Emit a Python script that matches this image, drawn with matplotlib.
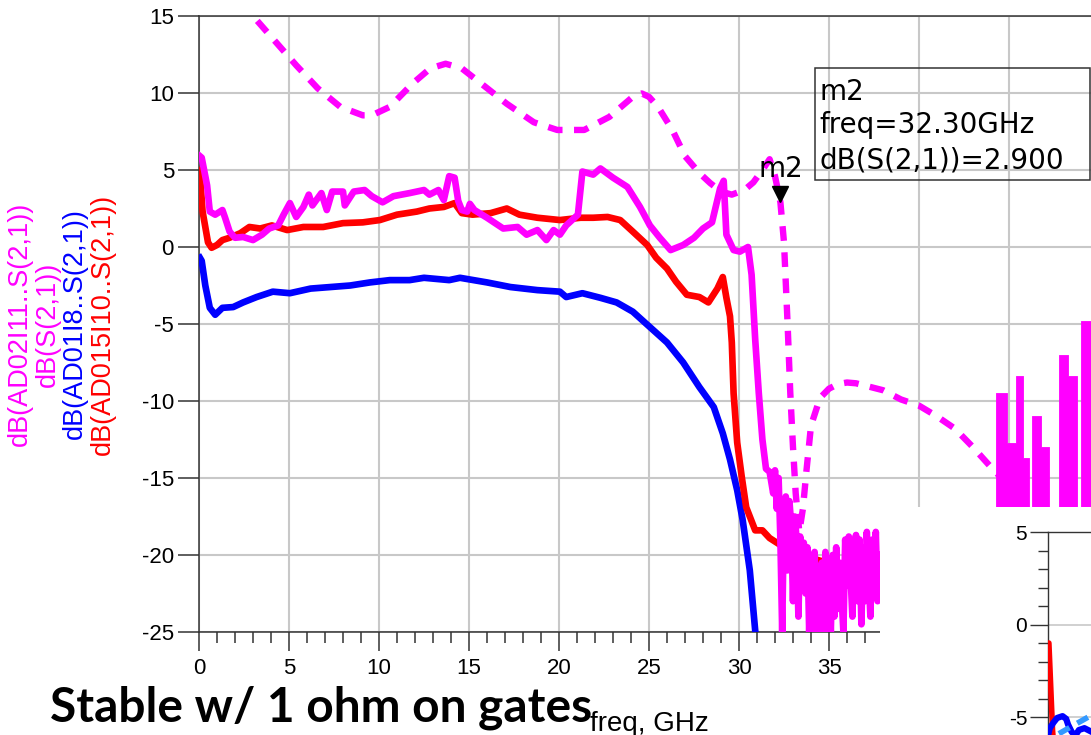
import matplotlib
matplotlib.use("Agg")
import matplotlib.pyplot as plt
from matplotlib.patches import Rectangle
from matplotlib.ticker import MultipleLocator, FuncFormatter
from matplotlib.transforms import offset_copy

plt.rcParams['font.family'] = ['Liberation Sans', 'DejaVu Sans']
plt.rcParams['axes.unicode_minus'] = False

W, H = 1091, 735  # canvas size in px

# measured dB(AD02I11..S(2,1)), magenta solid
f_a02 = [0.05, 0.15, 0.45, 0.6, 0.9, 1.3, 1.45, 1.7, 2.0, 2.45, 3.0, 3.5, 3.9, 4.4, 4.7,
         5.05, 5.4, 5.8, 6.1, 6.3, 6.8, 7.1, 7.4, 8.0, 8.1, 8.6, 9.2, 9.6, 10.2, 10.8,
         11.7, 12.5, 12.8, 13.3, 13.6, 13.9, 14.2, 14.4, 14.6, 14.9, 15.05, 15.3, 16.0,
         16.9, 17.7, 18.2, 18.8, 19.3, 19.7, 20.05, 20.4, 21.05, 21.3, 21.9, 22.3, 23.0,
         23.8, 24.5, 25.05, 25.6, 26.2, 26.9, 27.5, 28.0, 28.5, 28.95, 29.15, 29.3, 29.7,
         30.05, 30.5, 30.7, 30.9, 31.1, 31.3, 31.5, 31.7, 31.9,
         32.0, 32.1, 32.2, 32.3, 32.4, 32.5, 32.6, 32.7, 32.8, 32.9, 33.0, 33.1, 33.2,
         33.3, 33.4, 33.5, 33.6, 33.7, 33.8, 33.9, 34.0, 34.1, 34.2, 34.3, 34.4, 34.5,
         34.6, 34.7, 34.8, 34.9, 35.0, 35.1, 35.2, 35.3, 35.4, 35.5, 35.6, 35.8, 35.9,
         36.0, 36.1, 36.3, 36.4, 36.5, 36.6, 36.7, 36.8, 36.9, 37.0, 37.1, 37.3, 37.4,
         37.5, 37.6, 37.7, 37.8]
db_a02 = [5.9, 5.8, 4.0, 2.3, 2.1, 2.4, 1.9, 1.0, 0.6, 0.65, 0.45, 0.8, 1.2, 1.4, 2.1,
          2.85, 1.95, 2.6, 3.4, 2.7, 3.5, 2.4, 3.6, 3.6, 2.7, 3.6, 3.7, 3.3, 2.9, 3.3,
          3.5, 3.7, 3.4, 3.7, 3.05, 4.6, 4.5, 3.0, 2.4, 2.3, 2.8, 2.4, 1.9,
          1.2, 1.3, 0.8, 1.1, 0.45, 1.1, 0.8, 1.4, 2.1, 4.9, 4.7, 5.1, 4.5,
          3.9, 2.6, 1.4, 0.6, -0.2, 0.13, 0.6, 1.2, 1.6, 3.8, 4.3, 0.8, -0.2,
          -0.3, 0.0, -1.8, -6.0, -9.5, -12.5, -14.4, -14.6, -16.0,
          -14.5, -17.0, -15.0, -19.0, -25.0, -17.0, -16.2, -21.0, -16.5, -18.0, -23.0, -17.5, -19.0,
          -24.0, -18.8, -21.0, -19.2, -22.5, -19.5, -25.0, -20.0, -23.5, -19.8, -25.0, -21.0, -24.5,
          -20.5, -25.0, -19.8, -23.0, -21.0, -25.0, -20.0, -24.0, -19.5, -23.5, -20.5, -25.0, -19.0,
          -22.0, -18.8, -24.0, -20.0, -18.7, -23.0, -19.0, -24.5, -19.5, -23.0, -18.5, -24.0, -19.0,
          -22.0, -18.5, -23.0, -20.0]

# same trace above 44 GHz (top of each spike)
f_a02_hi = [44.3, 44.9, 45.4, 45.8, 46.1, 46.3, 46.75, 47.2, 47.8, 48.3, 48.75, 49.0, 50.0]
db_a02_hi = [-9.5, -12.7, -8.4, -13.7, -25.0, -11.0, -13.0, -25.0, -7.0, -8.4, -25.0, -4.8, -4.8]

# simulated dB(S(2,1)), magenta dashed
f_sim = [2.0, 3.0, 4.5, 5.4, 6.6, 7.85, 9.1, 9.6, 10.6, 11.85, 12.85, 13.7, 14.6, 15.8,
         17.1, 18.6, 19.9, 21.4, 22.8, 24.1, 24.6, 25.0, 25.5, 26.3, 27.0, 27.8, 28.4,
         29.0, 29.6, 30.3, 30.8, 31.3, 31.7, 32.0, 32.3, 32.5, 32.7, 32.85, 33.0, 33.15,
         33.35, 33.55, 33.75, 34.0, 34.5, 35.0, 35.5, 36.0, 36.5, 37.0, 38.0, 39.0, 40.0,
         41.0, 42.0, 43.0, 44.0, 45.0, 46.0, 47.0, 48.0, 50.0]
db_sim = [17.0, 15.0, 13.0, 11.8, 10.3, 9.1, 8.55, 8.55, 9.1, 10.6, 11.6, 11.9, 11.6, 10.5,
          9.3, 8.1, 7.6, 7.6, 8.45, 9.75, 9.97, 9.75, 9.1, 7.6, 5.9, 4.8, 4.15,
          3.6, 3.4, 3.7, 4.2, 5.0, 5.7, 4.6, 2.9, 0.3, -5.0, -9.5, -13.0, -16.0,
          -18.5, -17.0, -14.5, -11.6, -9.8, -9.2, -8.9, -8.8, -8.85, -9.0, -9.3, -9.9, -10.3,
          -11.0, -11.8, -13.0, -14.3, -15.5, -17.0, -18.5, -20.0, -22.5]

# dB(AD01I8..S(2,1)), blue
f_a01 = [0.05, 0.15, 0.35, 0.6, 0.9, 1.3, 1.9, 2.45, 3.2, 4.1, 5.05, 6.2, 7.3, 8.4, 9.5,
         10.6, 11.7, 12.5, 13.9, 14.5, 16.0, 17.3, 18.8, 20.05, 20.4, 21.3, 22.3, 23.2,
         24.1, 25.05, 26.0, 26.9, 27.8, 28.6, 29.1, 29.5, 29.9, 30.2, 30.6, 30.9, 31.0]
db_a01 = [-0.7, -0.9, -2.5, -3.95, -4.4, -3.95, -3.9, -3.6, -3.25, -2.9, -3.0, -2.7, -2.6,
          -2.5, -2.3, -2.15, -2.15, -2.0, -2.15, -2.0, -2.3, -2.6, -2.8, -2.9, -3.25, -3.0,
          -3.3, -3.6, -4.2, -5.2, -6.2, -7.5, -9.1, -10.4, -12.1, -13.8, -15.8, -17.7,
          -21.0, -24.9, -26.0]

# dB(AD015I10..S(2,1)), red
f_a015 = [0.02, 0.05, 0.2, 0.5, 0.7, 1.0, 1.3, 1.7, 2.3, 2.8, 3.4, 4.05, 4.9, 5.8, 6.9,
          8.0, 9.1, 10.05, 11.0, 12.1, 12.8, 13.6, 14.2, 14.6, 15.2, 16.2, 17.1, 17.8,
          18.8, 20.05, 21.2, 21.9, 22.7, 23.4, 24.1, 24.9, 25.4, 26.0, 26.5, 27.1, 27.8,
          28.3, 28.8, 29.1, 29.3, 29.5, 29.6, 29.7, 29.9, 30.15, 30.4, 30.9, 31.3, 31.7,
          32.3, 33.4, 34.3, 34.9, 35.2, 35.8, 36.7, 37.8]
db_a015 = [5.0, 4.7, 2.3, 0.3, -0.05, 0.13, 0.45, 0.6, 0.9, 1.3, 1.2, 1.4, 1.1, 1.3, 1.3,
           1.55, 1.6, 1.75, 2.1, 2.3, 2.5, 2.6, 2.85, 2.2, 2.1, 2.2, 2.5, 2.1,
           1.9, 1.75, 1.9, 1.9, 1.95, 1.75, 1.0, 0.13, -0.7, -1.4, -2.25, -3.1, -3.25,
           -3.6, -2.7, -1.95, -3.3, -4.5, -6.2, -9.5, -12.7, -14.9, -16.9, -18.4, -18.4,
           -18.9, -19.35, -19.9, -20.3, -20.5, -21.1, -21.2, -21.4, -21.5]

# marker m2 on the simulated trace
m2_freq, m2_db = 32.3, 2.9

# second plot peeking in at the lower right
f_in = [0.0, 0.05, 0.25, 0.35]
db_in_red = [-1.0, -1.0, -5.7, -7.0]
f_in_blue = [0.0, 0.1, 0.3, 0.5, 0.8, 1.0, 1.1, 1.3, 1.5, 1.7, 2.0, 2.3, 2.6]
db_in_blue = [-6.0, -5.6, -5.3, -5.05, -4.95, -5.1, -5.4, -5.8, -6.0, -5.7, -5.6, -5.75, -5.9]
f_in_lb = [0.6, 1.4, 2.3, 3.0]
db_in_lb = [-5.9, -5.45, -4.95, -4.6]

MAG, BLU, RED = '#ff00ff', '#0000ff', '#ff0000'
AX_COL = '#333333'

fig = plt.figure(figsize=(W / 100, H / 100), dpi=100)
ax = fig.add_axes([199 / W, 103 / H, 900 / W, 616 / H])
ax.set_xlim(0, 50)
ax.set_ylim(-25, 15)

ax.plot(f_a01, db_a01, color=BLU, lw=4.8, solid_joinstyle='round', zorder=3)
ax.plot(f_a015, db_a015, color=RED, lw=4.8, solid_joinstyle='round', zorder=4)
ax.plot(f_a02, db_a02, color=MAG, lw=4.8, solid_joinstyle='round', zorder=5)
ax.fill_between(f_a02_hi, db_a02_hi, -25, step='post', color=MAG, lw=0.6,
                edgecolor=MAG, zorder=5)
ax.plot(f_sim, db_sim, color=MAG, lw=4.6, ls=(0, (2.3, 1.8)), zorder=6)

# m2 marker: triangle sitting just above the point
tri = offset_copy(ax.transData, fig=fig, x=0, y=8.5, units='dots')
ax.plot([m2_freq], [m2_db], marker='v', ms=12, color='black', transform=tri,
        clip_on=False, zorder=7)
ax.annotate('m2', xy=(m2_freq, m2_db), xytext=(0, 25), textcoords='offset pixels',
            ha='center', va='baseline', fontsize=20, family='DejaVu Sans', zorder=7)

# marker readout
ax.add_patch(Rectangle((0.6844, 0.7338), 0.3056, 0.1818, transform=ax.transAxes,
                       fill=False, ec=AX_COL, lw=1.1, zorder=7))
readout = ['m2', 'freq=%.2fGHz' % m2_freq, 'dB(S(2,1))=%.3f' % m2_db]
for line, yb in zip(readout, [0.8636, 0.8101, 0.7532]):
    ax.text(0.6889, yb, line, transform=ax.transAxes, ha='left', va='baseline',
            fontsize=20, family='DejaVu Sans', zorder=7)

ax.xaxis.set_major_locator(MultipleLocator(5))
ax.xaxis.set_minor_locator(MultipleLocator(1))
ax.xaxis.set_major_formatter(FuncFormatter(lambda v, p: '%d' % v if v < 38 else ''))
ax.yaxis.set_major_locator(MultipleLocator(5))
ax.grid(True, which='major', color='#c8c8c8', lw=1.5, zorder=0)
ax.set_axisbelow(True)
ax.tick_params(axis='x', which='major', direction='out', length=14, width=1.1,
               color=AX_COL, labelsize=16, pad=5)
ax.tick_params(axis='x', which='minor', direction='out', length=8, width=1.1, color=AX_COL)
ax.tick_params(axis='y', which='major', direction='out', length=15, width=1.1,
               color=AX_COL, labelsize=16, pad=3)
for side in ['left', 'top', 'bottom']:
    ax.spines[side].set_color(AX_COL)
    ax.spines[side].set_linewidth(1.1)
ax.spines['right'].set_visible(False)

ax.set_xlabel('freq, GHz', fontsize=20)
ax.xaxis.set_label_coords(0.5, -0.128)

ylabels = [('dB(AD02I11..S(2,1))', MAG, 20), ('dB(S(2,1))', MAG, 48),
           ('dB(AD01I8..S(2,1))', BLU, 75), ('dB(AD015I10..S(2,1))', RED, 103)]
for txt, col, xp in ylabels:
    fig.text(xp / W, (H - 324) / H, txt, rotation=90, ha='center', va='center',
             color=col, fontsize=19.5)

# white panel of the second plot
fig.add_artist(Rectangle((880 / W, 0), 1 - 880 / W, 228 / H, transform=fig.transFigure,
                         fc='white', ec='none', zorder=5))

ax2 = fig.add_axes([1048 / W, 0, 300 / W, 203 / H], zorder=10)
ax2.set_facecolor('none')
ax2.set_xlim(0, 300 / 18.2)
ax2.set_ylim(-5.97, 5)
ax2.plot(f_in, db_in_red, color=RED, lw=4, zorder=3)
ax2.plot(f_in_blue, db_in_blue, color=BLU, lw=4.5, zorder=3)
ax2.plot(f_in_lb, db_in_lb, color='#3399ff', lw=4, ls=(0, (2.2, 1.6)), zorder=4)
ax2.yaxis.set_major_locator(MultipleLocator(5))
ax2.yaxis.set_minor_locator(MultipleLocator(1))
ax2.set_xticks([])
ax2.grid(True, axis='y', which='major', color='#c8c8c8', lw=1.2)
ax2.tick_params(axis='y', which='major', length=13, width=1.0, color=AX_COL,
                labelsize=15, pad=2)
ax2.tick_params(axis='y', which='minor', length=7, width=1.0, color=AX_COL)
for side in ['left', 'top']:
    ax2.spines[side].set_color(AX_COL)
    ax2.spines[side].set_linewidth(1.0)
for side in ['right', 'bottom']:
    ax2.spines[side].set_visible(False)

fig.text(50 / W, 13 / H, 'Stable w/ 1 ohm on gates', fontsize=34.5, fontweight='bold',
         family=['Lato', 'DejaVu Sans'], ha='left', va='baseline', zorder=20)

fig.savefig('out.png', dpi=100)
